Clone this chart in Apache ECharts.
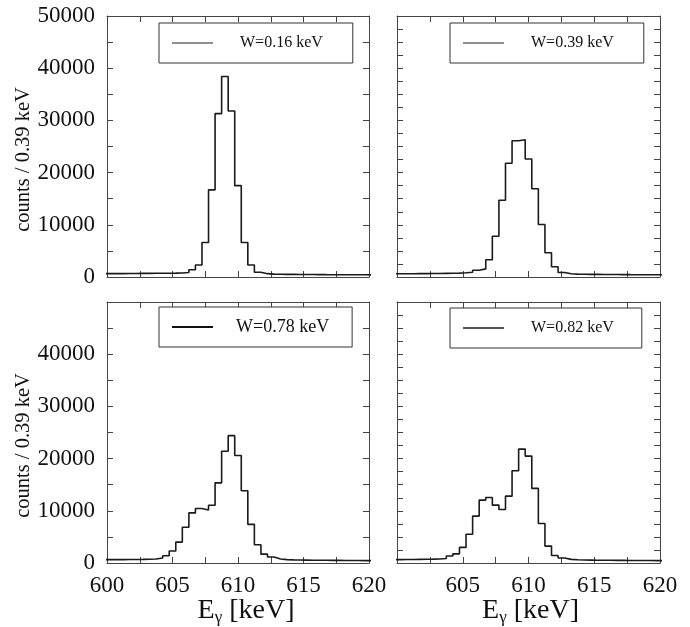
<!DOCTYPE html>
<html>
<head>
<meta charset="utf-8">
<script src="https://cdn.jsdelivr.net/npm/echarts@6/dist/echarts.min.js"></script>
<style>
html,body{margin:0;padding:0;background:#fff;}
#chart{width:690px;height:627px;}
</style>
</head>
<body>
<div id="chart"></div>
<script>
// Bin lower edges (keV), bin width 0.5 keV
const binEdges = [599.75, 600.25, 600.75, 601.25, 601.75, 602.25, 602.75, 603.25, 603.75, 604.25,
  604.75, 605.25, 605.75, 606.25, 606.75, 607.25, 607.75, 608.25, 608.75, 609.25,
  609.75, 610.25, 610.75, 611.25, 611.75, 612.25, 612.75, 613.25, 613.75, 614.25,
  614.75, 615.25, 615.75, 616.25, 616.75, 617.25, 617.75, 618.25, 618.75, 619.25, 619.75];
const binWidth = 0.5;

const countsW016 = [640, 640, 650, 660, 670, 690, 700, 710, 720, 730,
  740, 760, 850, 1400, 2300, 6600, 16700, 31300, 38400, 31800,
  17500, 6600, 2300, 900, 640, 560, 530, 510, 500, 490,
  480, 470, 460, 450, 445, 440, 435, 430, 425, 420, 415];
const countsW039 = [620, 620, 630, 640, 650, 660, 680, 700, 720, 750,
  800, 900, 1300, 1550, 3300, 7800, 14700, 21800, 26100, 26300,
  22600, 16900, 10050, 4650, 1950, 850, 620, 560, 530, 510,
  500, 490, 480, 470, 460, 450, 445, 440, 430, 425, 420];
const countsW078 = [640, 640, 650, 660, 670, 690, 720, 780, 950, 1400,
  2300, 4000, 6850, 9600, 10450, 10150, 11050, 15350, 21400, 24400,
  20600, 13850, 7400, 3500, 1700, 1150, 770, 640, 600, 580,
  560, 540, 530, 520, 510, 500, 490, 480, 470, 460, 450];
const countsW082 = [650, 660, 670, 690, 710, 740, 780, 850, 1350, 1750,
  2990, 5500, 8980, 12050, 12560, 11090, 10260, 12810, 17670, 21820,
  20480, 14290, 7580, 3240, 1450, 950, 690, 620, 580, 560,
  540, 530, 520, 510, 500, 490, 480, 470, 465, 460, 450];

const seriesNames = ['W=0.16 keV', 'W=0.39 keV', 'W=0.78 keV', 'W=0.82 keV'];
const seriesCounts = [countsW016, countsW039, countsW078, countsW082];

const xMin = 600, xMax = 620;
const yMin = 0, yMax = 50000;
const yLabelTicks = [0, 10000, 20000, 30000, 40000, 50000];
const xLabelTicks = [600, 605, 610, 615, 620];
const yTitle = 'counts / 0.39 keV';

const FONT = 'Liberation Serif';
const frameColor = '#444';
const textColor = '#111';

function stepData(counts) {
  const d = binEdges.map((e, i) => [e, counts[i]]);
  d.push([binEdges[binEdges.length - 1] + binWidth, counts[counts.length - 1]]);
  return d;
}

// panel layout: [left, top, width, height, isRight, isBottom]
const panels = [
  [107, 16, 262, 261, false, false],
  [397, 16, 263, 261, true, false],
  [107, 302, 262, 261, false, true],
  [397, 302, 263, 261, true, true]
];

const grids = [], xAxes = [], yAxes = [], series = [], legends = [];

panels.forEach((p, i) => {
  const [l, t, w, h, isRight, isBottom] = p;
  grids.push({left: l, top: t, width: w, height: h, containLabel: false});
  const lineCommon = {show: true, onZero: false, lineStyle: {color: frameColor, width: 1}};
  const tickCommon = {show: true, inside: true, length: 6, lineStyle: {color: frameColor, width: 1}};
  // bottom x axis
  xAxes.push({
    type: 'value', gridIndex: i, position: 'bottom', min: xMin, max: xMax, interval: 2.5,
    axisLine: lineCommon, axisTick: tickCommon, splitLine: {show: false},
    axisLabel: {
      show: isBottom, margin: 11, color: textColor, fontFamily: FONT, fontSize: 23,
      formatter: v => (xLabelTicks.indexOf(v) >= 0 && !(isRight && v === 600)) ? String(v) : ''
    },
    name: isBottom ? '{a|E}{b|γ}{a| [keV]}' : '',
    nameLocation: 'middle', nameGap: 32, nameMoveOverlap: false,
    nameTextStyle: {
      color: textColor, padding: [0, 0, 0, isRight ? 4 : 16],
      rich: {
        a: {fontFamily: FONT, fontSize: 28, color: textColor},
        b: {fontFamily: FONT, fontSize: 17, color: textColor, padding: [14, 0, 0, 0]}
      }
    }
  });
  // top x axis (frame + ticks)
  xAxes.push({
    type: 'value', gridIndex: i, position: 'top', min: xMin, max: xMax, interval: 2.5,
    axisLine: lineCommon, axisTick: tickCommon, splitLine: {show: false}, axisLabel: {show: false}
  });
  const yInt = isRight ? 2500 : 5000;
  yAxes.push({
    type: 'value', gridIndex: i, position: 'left', min: yMin, max: yMax, interval: yInt,
    axisLine: lineCommon, axisTick: tickCommon, splitLine: {show: false},
    axisLabel: {
      show: !isRight, margin: 12, color: textColor, fontFamily: FONT, fontSize: 23,
      formatter: v => (yLabelTicks.indexOf(v) >= 0 && !(isBottom && v === 50000)) ? String(v) : ''
    },
    name: isRight ? '' : yTitle, nameLocation: 'middle', nameGap: 73, nameMoveOverlap: false,
    nameTextStyle: {color: textColor, fontFamily: FONT, fontSize: 20.5, padding: [0, 26, 0, 0]}
  });
  yAxes.push({
    type: 'value', gridIndex: i, position: 'right', min: yMin, max: yMax, interval: yInt,
    axisLine: lineCommon, axisTick: tickCommon, splitLine: {show: false}, axisLabel: {show: false}
  });
  series.push({
    name: seriesNames[i], type: 'line', step: 'end', xAxisIndex: 2 * i, yAxisIndex: 2 * i,
    data: stepData(seriesCounts[i]), showSymbol: false, symbol: 'none', clip: true,
    lineStyle: {color: '#1a1a1a', width: 1.6}, itemStyle: {color: '#1a1a1a'}
  });
});

const legendCfg = [
  {left: 159, top: 23, fs: 16, ih: 1.2, col: '#222', pad: [12, 30, 12, 13], tp: 22},
  {left: 450, top: 23, fs: 16, ih: 1.2, col: '#222', pad: [12, 30, 12, 13], tp: 22},
  {left: 159, top: 307, fs: 18, ih: 2.2, col: '#111', pad: [11, 23, 11, 13], tp: 18},
  {left: 450, top: 308, fs: 16, ih: 2.2, col: '#555', pad: [12, 28, 12, 13], tp: 22}
];
legendCfg.forEach((c, i) => {
  legends.push({
    data: [seriesNames[i]], left: c.left, top: c.top, orient: 'horizontal',
    icon: 'rect', itemWidth: 41, itemHeight: c.ih, padding: c.pad,
    borderColor: '#333', borderWidth: 1, backgroundColor: '#fff',
    itemStyle: {color: c.col}, selectedMode: false,
    textStyle: {fontFamily: FONT, fontSize: c.fs, color: textColor, padding: [0, 0, 0, c.tp]}
  });
});

const chart = echarts.init(document.getElementById('chart'), null, {renderer: 'canvas'});
chart.setOption({
  animation: false,
  backgroundColor: '#fff',
  grid: grids, xAxis: xAxes, yAxis: yAxes, series: series, legend: legends
});
</script>
</body>
</html>
